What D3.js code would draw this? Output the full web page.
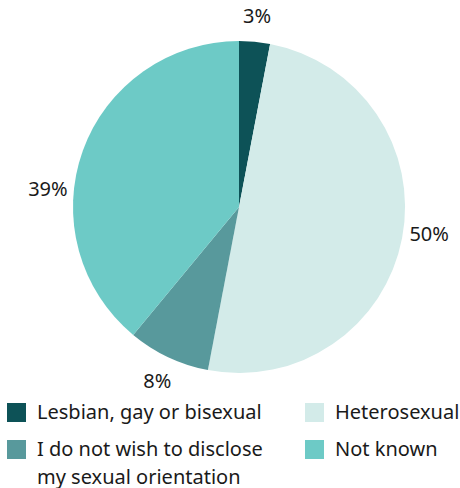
<!DOCTYPE html>
<html>
<head>
<meta charset="utf-8">
<script src="https://cdn.jsdelivr.net/npm/d3@7"></script>
<style>
  body { margin: 0; background: #fff; }
  text { font-family: "Noto Sans", sans-serif; fill: #1a1a1a; }
</style>
</head>
<body>
<svg id="pie-chart"></svg>
<script>
// chart data
const categories = ["Lesbian, gay or bisexual", "Heterosexual", "I do not wish to disclose my sexual orientation", "Not known"];
const values = [3, 50, 8, 39];
const colors = ["#0d5257", "#d3ebe9", "#58999c", "#6dcac6"];

// legend layout (order as shown)
const legendRows = [
  { idx: 0, lines: ["Lesbian, gay or bisexual"] },
  { idx: 1, lines: ["Heterosexual"] },
  { idx: 2, lines: ["I do not wish to disclose", "my sexual orientation"] },
  { idx: 3, lines: ["Not known"] }
];

const width = 460, height = 488;
const cx = 239, cy = 207, radius = 166;

const svg = d3.select("#pie-chart")
  .attr("width", width)
  .attr("height", height);

const g = svg.append("g").attr("transform", `translate(${cx},${cy})`);

const pie = d3.pie().sort(null).value(d => d);
const arcs = pie(values);

const arc = d3.arc().innerRadius(0).outerRadius(radius);

g.selectAll("path")
  .data(arcs)
  .enter()
  .append("path")
  .attr("d", arc)
  .attr("fill", (d, i) => colors[i]);

// percentage labels outside the pie
const labelR = radius + 26;
// small nudge for the big left slice, like the original's label placement
const angleNudge = [0, -0.05, 0, -0.25];
g.selectAll(".pct")
  .data(arcs)
  .enter()
  .append("text")
  .attr("class", "pct")
  .attr("x", (d, i) => labelR * Math.sin((d.startAngle + d.endAngle) / 2 + angleNudge[i]))
  .attr("y", (d, i) => -labelR * Math.cos((d.startAngle + d.endAngle) / 2 + angleNudge[i]))
  .attr("dy", "0.35em")
  .attr("text-anchor", "middle")
  .style("font-size", "20px")
  .text(d => d.data + "%");

// legend
const legend = svg.append("g").attr("class", "legend");
const colX = [7, 305];
const rowY = [403, 440];
legendRows.forEach((r, k) => {
  const x = colX[k % 2], y = rowY[Math.floor(k / 2)];
  legend.append("rect")
    .attr("x", x).attr("y", y)
    .attr("width", 19).attr("height", 19)
    .attr("fill", colors[r.idx]);
  r.lines.forEach((line, j) => {
    legend.append("text")
      .attr("x", x + 30)
      .attr("y", y + 16 + j * 27.5)
      .style("font-size", "20px")
      .text(line);
  });
});
</script>
</body>
</html>
